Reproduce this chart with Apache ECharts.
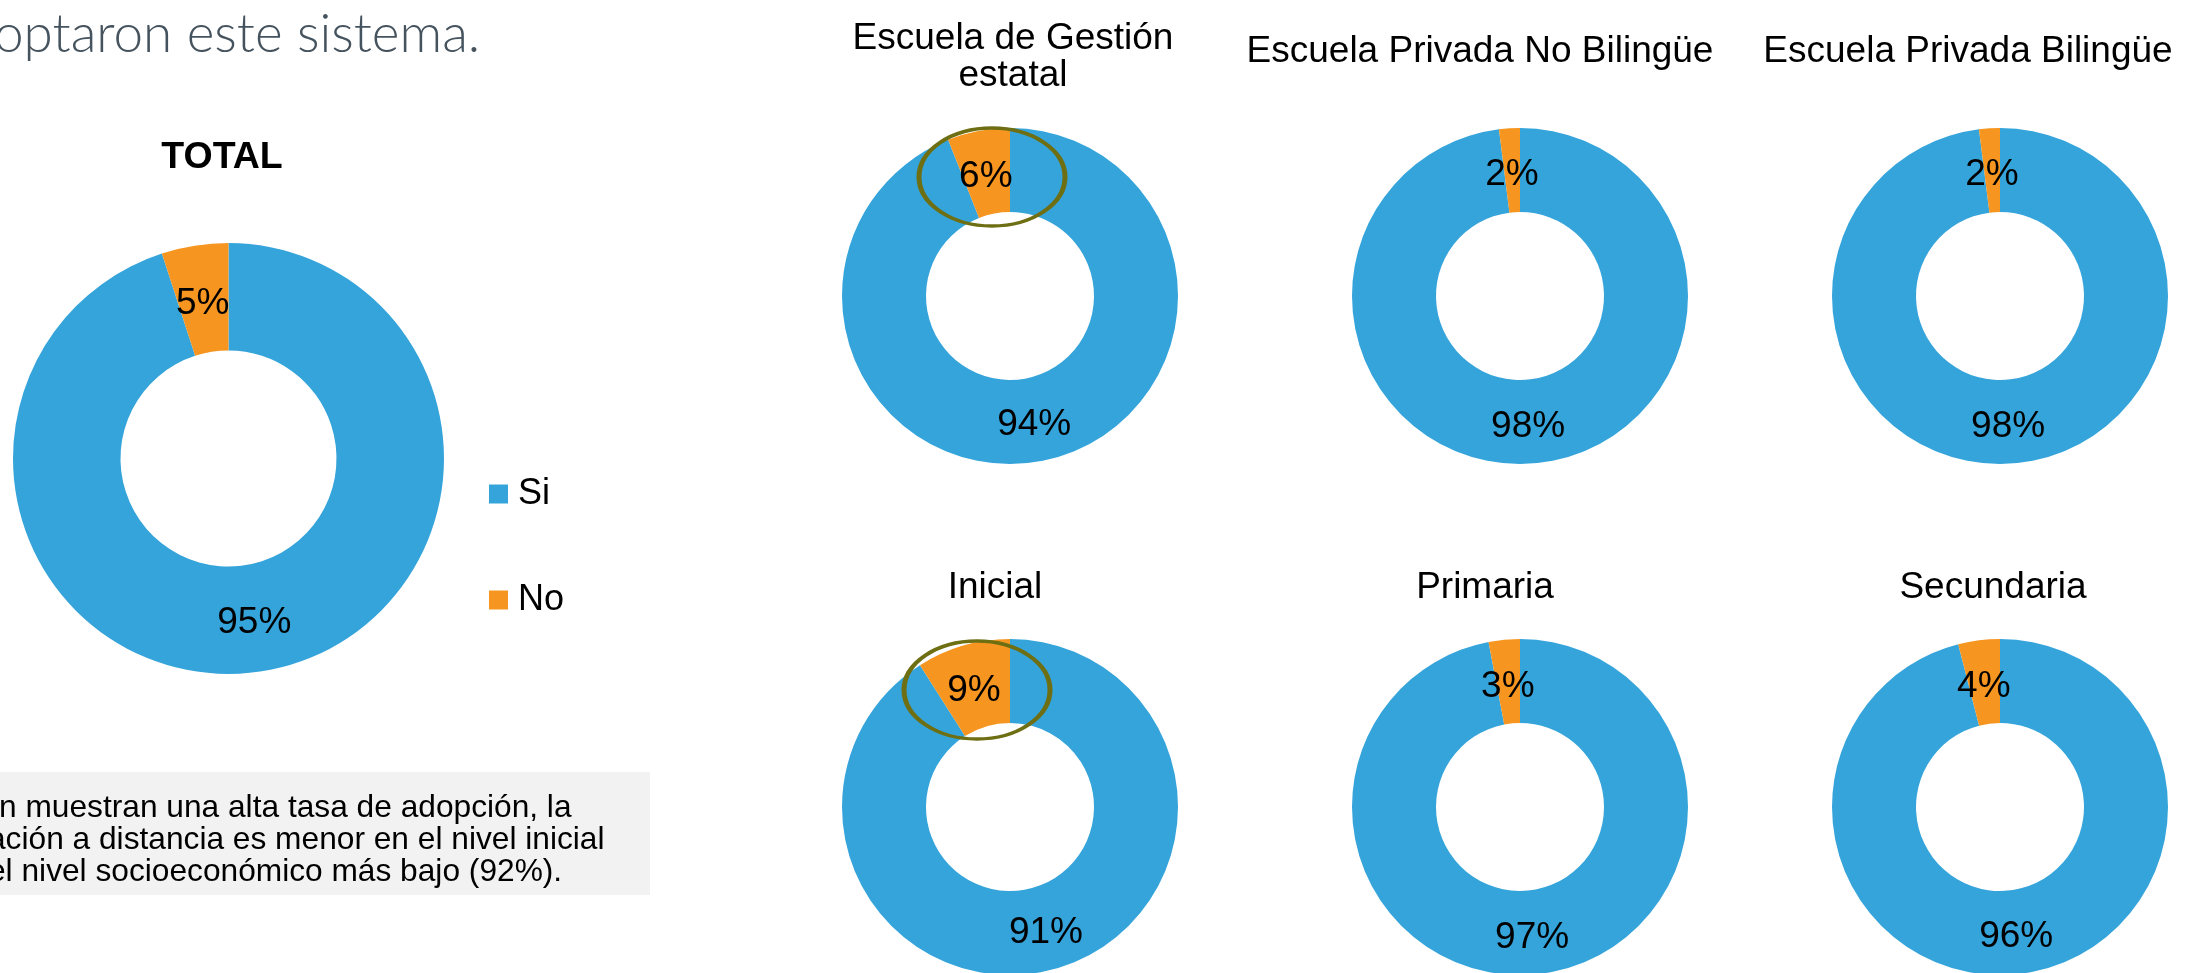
<!DOCTYPE html>
<html>
<head>
<meta charset="utf-8">
<script src="https://cdn.jsdelivr.net/npm/echarts@6/dist/echarts.min.js"></script>
<style>
  html, body { margin: 0; padding: 0; background: #fff; }
  #chart { width: 2200px; height: 973px; }
</style>
</head>
<body>
<div id="chart"></div>
<script>
const categories = ['Si', 'No']
const totalValues = [95, 5]
const panelTitles = ['Escuela de Gestión\nestatal', 'Escuela Privada No Bilingüe', 'Escuela Privada Bilingüe', 'Inicial', 'Primaria', 'Secundaria']
const siValues = [94, 98, 98, 91, 97, 96]
const noValues = [6, 2, 2, 9, 3, 4]
const noteLines = [
  'n muestran una alta tasa de adopción, la',
  'ación a distancia es menor en el nivel inicial',
  'el nivel socioeconómico más bajo (92%).',
]

const BLUE = '#35a4db'
const ORANGE = '#f6951f'
const FONT = 'Liberation Sans, Arial, sans-serif'

// panel layout
const colX = [1010, 1520, 2000]
const rowY = [296, 807]
const titleX = [1008, 1475, 1963, 990, 1480, 1988]
const titleY = [52, 47, 47, 583, 583, 583]
const noteX = [-1, -12, -12]

function pieLabel() {
  return {
    show: true, position: 'inside', formatter: '{c}%', color: '#000',
    fontSize: 37, fontFamily: FONT,
  }
}

// office places the small-slice labels a bit lower than the ring middle
function labelShift(params) {
  return { dy: params.dataIndex === 1 ? 8 : 2 }
}

function makeData(si, no) {
  return [
    { name: categories[0], value: si, itemStyle: { color: BLUE } },
    { name: categories[1], value: no, itemStyle: { color: ORANGE } },
  ]
}

const series = [{
  type: 'pie',
  center: [228.5, 458.5],
  radius: [108, 215.5],
  startAngle: 90,
  label: pieLabel(),
  labelLine: { show: false },
  labelLayout: labelShift,
  emphasis: { disabled: true },
  data: makeData(totalValues[0], totalValues[1]),
}]

const titles = [{
  text: 'TOTAL', left: 217, top: 153, textAlign: 'center', textVerticalAlign: 'middle',
  textStyle: { fontSize: 37.5, fontWeight: 'bold', fontFamily: FONT, color: '#000' },
}]

panelTitles.forEach((t, i) => {
  const cx = colX[i % 3]
  const cy = rowY[Math.floor(i / 3)]
  series.push({
    type: 'pie',
    center: [cx, cy],
    radius: [84, 168],
    startAngle: 90,
    label: pieLabel(),
    labelLine: { show: false },
    labelLayout: labelShift,
    emphasis: { disabled: true },
    data: makeData(siValues[i], noValues[i]),
  })
  titles.push({
    text: t, left: titleX[i], top: titleY[i], textAlign: 'center', textVerticalAlign: 'middle',
    textStyle: { fontSize: 37, fontWeight: 'normal', fontFamily: FONT, color: '#000', lineHeight: 37 },
  })
})

const graphics = [
  {
    type: 'text', left: -6, top: 8,
    style: { text: 'optaron este sistema.', fontSize: 53, fontWeight: 300, fontFamily: 'Lato, sans-serif', fill: '#45535e' },
  },
  { type: 'rect', shape: { x: 0, y: 772, width: 650, height: 123 }, style: { fill: '#f2f2f2' }, z: 0 },
  // highlight ellipses
  {
    type: 'circle', x: 992, y: 177, scaleX: 1, scaleY: 49 / 73, shape: { cx: 0, cy: 0, r: 73 },
    style: { fill: 'none', stroke: '#6e6e13', lineWidth: 5, strokeNoScale: true }, z: 10,
  },
  {
    type: 'circle', x: 977, y: 690, scaleX: 1, scaleY: 49 / 73, shape: { cx: 0, cy: 0, r: 73 },
    style: { fill: 'none', stroke: '#6e6e13', lineWidth: 5, strokeNoScale: true }, z: 10,
  },
]
noteLines.forEach((line, i) => {
  graphics.push({
    type: 'text', x: noteX[i], y: 808 + i * 32, z: 1,
    style: { text: line, fontSize: 31.7, fontFamily: FONT, fill: '#000', textVerticalAlign: 'middle' },
  })
})

const chart = echarts.init(document.getElementById('chart'))
chart.setOption({
  animation: false,
  title: titles,
  legend: {
    orient: 'vertical',
    left: 489,
    top: 476,
    padding: 0,
    itemWidth: 19,
    itemHeight: 19,
    itemGap: 70,
    icon: 'rect',
    data: categories,
    textStyle: { fontSize: 36, fontFamily: FONT, color: '#000', padding: [0, 0, 0, 5] },
    selectedMode: false,
  },
  graphic: graphics,
  series: series,
})
</script>
</body>
</html>
